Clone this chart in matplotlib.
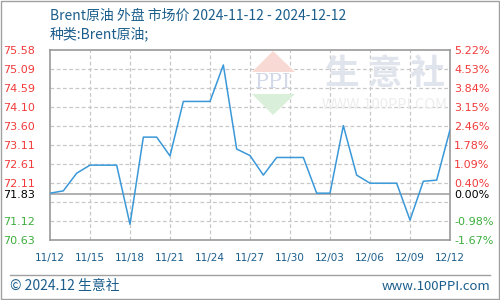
import matplotlib
matplotlib.use("Agg")
import matplotlib.pyplot as plt
from matplotlib.patches import Polygon, Rectangle
from matplotlib.lines import Line2D
import numpy as np

plt.rcParams['font.family'] = ['Noto Sans CJK SC', 'DejaVu Sans']

# ---- data ----
dates = ['11/12', '11/13', '11/14', '11/15', '11/16', '11/17', '11/18', '11/19', '11/20', '11/21',
         '11/22', '11/23', '11/24', '11/25', '11/26', '11/27', '11/28', '11/29', '11/30', '12/01',
         '12/02', '12/03', '12/04', '12/05', '12/06', '12/07', '12/08', '12/09', '12/10', '12/11', '12/12']
prices = [71.85, 71.91, 72.37, 72.58, 72.58, 72.58, 71.04, 73.31, 73.31, 72.82,
          74.24, 74.24, 74.24, 75.19, 73.00, 72.83, 72.32, 72.78, 72.78, 72.78,
          71.85, 71.85, 73.61, 72.32, 72.11, 72.11, 72.11, 71.15, 72.16, 72.19, 73.50]
base_price = 71.83
x_tick_labels = ['11/12', '11/15', '11/18', '11/21', '11/24', '11/27', '11/30', '12/03', '12/06', '12/09', '12/12']
left_labels = ['70.63', '71.12', '71.83', '72.11', '72.61', '73.11', '73.60', '74.10', '74.59', '75.09', '75.58']
right_labels = ['-1.67%', '-0.98%', '0.00%', '0.40%', '1.09%', '1.78%', '2.46%', '3.15%', '3.84%', '4.53%', '5.22%']
y_min, y_max = 70.63, 75.58

title = 'Brent原油 外盘 市场价 2024-11-12 - 2024-12-12'
subtitle = '种类:Brent原油;'

RED = '#f23a3a'
GREEN = '#3cae3c'
BLUE_TXT = '#1b5e8c'
LINE = '#3a98d8'
GRID = '#c8c8c8'
SPINE = '#9a9a9a'

fig = plt.figure(figsize=(5, 3), dpi=100)
fig.patch.set_facecolor('white')

# outer border
fig.add_artist(Rectangle((0.001, 0.002), 0.996, 0.995, transform=fig.transFigure,
                         fill=False, edgecolor='#a0a0a0', linewidth=1.0))

ax = fig.add_axes([0.1, 0.2, 0.8, 190 / 300])
x = np.arange(len(dates))

# watermark (figure coordinates)
def fx(px):
    return px / 500
def fy(py):
    return 1 - py / 300
fig.add_artist(Polygon([(fx(273), fy(51)), (fx(252), fy(72)), (fx(295), fy(72))],
                       closed=True, transform=fig.transFigure, facecolor='#f9d9d4', edgecolor='none', zorder=1))
fig.add_artist(Polygon([(fx(252), fy(94)), (fx(295), fy(94)), (fx(273), fy(115))],
                       closed=True, transform=fig.transFigure, facecolor='#d9efd9', edgecolor='none', zorder=1))
fig.text(fx(273), fy(83), 'PPI', transform=fig.transFigure, ha='center', va='center',
         fontsize=15, color='#d3d9e8', family='DejaVu Serif', zorder=1)
fig.text(fx(385), fy(73), '生 意 社', transform=fig.transFigure, ha='center', va='center',
         fontsize=25, color='#e0e4ed', fontweight='bold', zorder=1)
fig.text(fx(385), fy(105), 'WWW.100PPI.COM', transform=fig.transFigure, ha='center', va='center',
         fontsize=10.5, color='#ededed', zorder=1)

ax.set_facecolor('none')
ax.set_xlim(0, len(dates) - 1)
ax.set_ylim(y_min, y_max)

# grid
for gy in np.linspace(y_min, y_max, 11)[1:-1]:
    ax.axhline(gy, color=GRID, linestyle=(0, (3, 2)), linewidth=0.9, zorder=1)
tick_pos = [dates.index(t) for t in x_tick_labels]
for gx in tick_pos[1:-1]:
    ax.axvline(gx, color=GRID, linestyle=(0, (3, 2)), linewidth=0.9, zorder=1)
ax.axhline(base_price, color=SPINE, linewidth=1.1, zorder=2)

ax.plot(x, prices, color=LINE, linewidth=1.1, zorder=3)

for s in ax.spines.values():
    s.set_color(SPINE)
    s.set_linewidth(1.2)

ax.set_xticks(tick_pos)
ax.set_xticklabels(x_tick_labels, fontsize=7.5, color=BLUE_TXT, family='DejaVu Sans')
ax.tick_params(axis='x', length=0, pad=9)

left_vals = [float(v) for v in left_labels]
ax.set_yticks(left_vals)
ax.set_yticklabels(left_labels, fontsize=8, family='DejaVu Sans')
ax.tick_params(axis='y', length=0, pad=11)
for lbl, v in zip(ax.get_yticklabels(), left_vals):
    lbl.set_color(RED if v > base_price else (GREEN if v < base_price else 'black'))

ax2 = ax.twinx()
ax2.set_ylim(y_min, y_max)
ax2.set_yticks(left_vals)
ax2.set_yticklabels(right_labels, fontsize=8, family='DejaVu Sans')
ax2.tick_params(axis='y', length=0, pad=3)
for s in ax2.spines.values():
    s.set_visible(False)
for lbl, v in zip(ax2.get_yticklabels(), left_vals):
    lbl.set_color(RED if v > base_price else (GREEN if v < base_price else 'black'))

# titles
fig.text(fx(50), fy(16), title, ha='left', va='center', fontsize=10, color=BLUE_TXT)
fig.text(fx(50), fy(34), subtitle, ha='left', va='center', fontsize=10, color=BLUE_TXT)

# footer
fig.add_artist(Line2D([fx(10), fx(490)], [fy(275), fy(275)], transform=fig.transFigure,
                      color='#a0a0a0', linewidth=1.0))
fig.text(fx(10), fy(286), '© 2024.12 生意社', ha='left', va='center', fontsize=10, color=BLUE_TXT)
fig.text(fx(490), fy(286), 'www.100PPI.com', ha='right', va='center', fontsize=9.5, color=BLUE_TXT)

fig.savefig('out.png', dpi=100, facecolor='white')
